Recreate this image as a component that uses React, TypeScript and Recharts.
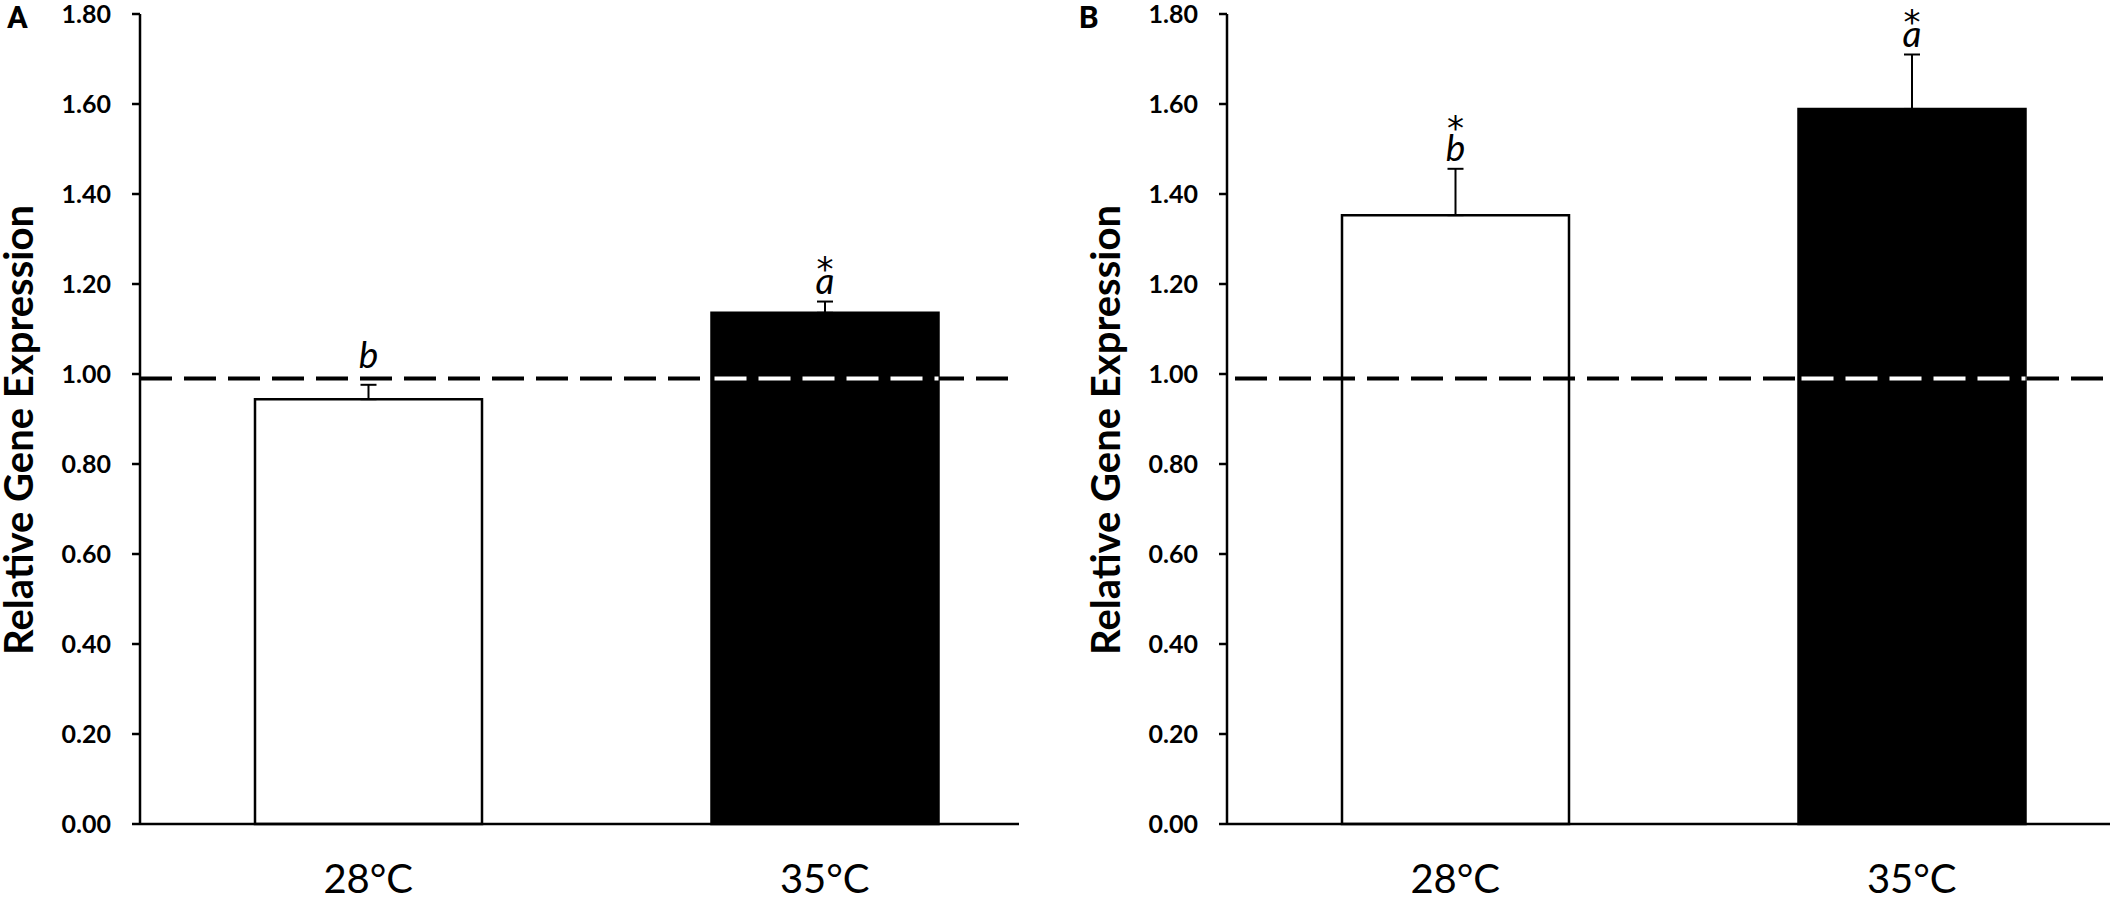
import React from 'react'
import { BarChart, Bar, XAxis, YAxis, ReferenceLine, ErrorBar, LabelList, Cell } from 'recharts'

const categories = ['28°C', '35°C']
const barFills = ['#ffffff', '#000000']

const panelAMeans = [0.944, 1.136]
const panelAErrors = [0.032, 0.025]
const panelALetters = ['b', 'a']
const panelAStars = [false, true]

const panelBMeans = [1.353, 1.589]
const panelBErrors = [0.103, 0.121]
const panelBLetters = ['b', 'a']
const panelBStars = [true, true]

const yTicks = [0, 0.2, 0.4, 0.6, 0.8, 1.0, 1.2, 1.4, 1.6, 1.8]
const controlLevel = 0.99

const FONT = 'Lato, "Open Sans", sans-serif'
const CHART_H = 901
const BAR_SIZE = 227
const DASH = '32 12'
const LETTER_SIZE = 37
const ASCENDERS = 'bdfhklt'

interface PanelProps {
  means: number[]
  errors: number[]
  letters: string[]
  stars: boolean[]
  width: number
  yAxisWidth: number
  dashOffset: number
}

const Panel: React.FC<PanelProps> = ({ means, errors, letters, stars, width, yAxisWidth, dashOffset }) => {
  const data = categories.map((category, i) => ({
    category,
    value: means[i],
    err: [0, errors[i]],
    fill: barFills[i],
    letter: letters[i],
    star: stars[i],
  }))

  // white dashes over the dark bar, significance letter and star above the error bar
  const renderMarks = (props: any) => {
    const { x, y, width: w, height: h, value, index } = props
    const row = data[index]
    if (!row || !value) return null
    const base = y + h
    const ppu = h / value
    const refY = base - controlLevel * ppu
    const errTop = y - row.err[1] * ppu
    const cx = x + w / 2
    const letterY = Math.min(errTop - 8, refY - 11)
    const letterTop = letterY - (ASCENDERS.includes(row.letter) ? 0.73 : 0.51) * LETTER_SIZE
    const starY = letterTop - 6 + 12
    return (
      <g>
        {row.fill === '#000000' && (
          <line x1={x + 3} x2={x + w} y1={refY} y2={refY} stroke="#fff" strokeWidth={4} strokeDasharray={DASH} />
        )}
        <text x={cx} y={letterY} textAnchor="middle" fontSize={LETTER_SIZE} fontStyle="italic" fontFamily={FONT} fill="#000">
          {row.letter}
        </text>
        {row.star && (
          <text x={cx} y={starY} textAnchor="middle" fontSize={34} fontFamily='"DejaVu Sans", sans-serif' fill="#000">
            *
          </text>
        )}
      </g>
    )
  }

  const renderTitle = (props: any) => {
    const vb = props.viewBox
    const tx = vb.x + vb.width - 107
    const ty = vb.y + vb.height / 2 + 11
    return (
      <text
        x={tx}
        y={ty}
        transform={`rotate(-90 ${tx} ${ty})`}
        textAnchor="middle"
        fontSize={40}
        fontWeight={700}
        fontFamily={FONT}
        fill="#000"
      >
        Relative Gene Expression
      </text>
    )
  }

  const renderCategoryTick = (props: any) => {
    const { x, y, payload } = props
    return (
      <text x={x} y={y + 69} textAnchor="middle" fontSize={40} fontFamily={FONT} fill="#000">
        {payload.value}
      </text>
    )
  }

  return (
    <BarChart width={width} height={CHART_H} data={data} margin={{ top: 14, right: 0, bottom: 0, left: 0 }}>
      <XAxis
        dataKey="category"
        height={77}
        tickLine={false}
        tickSize={0}
        tickMargin={0}
        axisLine={{ stroke: '#000', strokeWidth: 2.5 }}
        tick={renderCategoryTick}
      />
      <YAxis
        width={yAxisWidth}
        domain={[0, 1.8]}
        ticks={yTicks}
        interval={0}
        tickFormatter={(v: number) => v.toFixed(2)}
        tickSize={8}
        tickMargin={21}
        axisLine={{ stroke: '#000', strokeWidth: 2.5 }}
        tickLine={{ stroke: '#000', strokeWidth: 2.5 }}
        tick={{ fill: '#000', fontSize: 25, fontWeight: 700, fontFamily: FONT }}
        label={renderTitle}
      />
      <Bar dataKey="value" barSize={BAR_SIZE} stroke="#000" strokeWidth={2.5} isAnimationActive={false}>
        {data.map((d) => (
          <Cell key={d.category} fill={d.fill} />
        ))}
        <ErrorBar dataKey="err" direction="y" width={8} strokeWidth={2} stroke="#000" />
        <LabelList dataKey="value" content={renderMarks} />
      </Bar>
      <ReferenceLine
        y={controlLevel}
        stroke="#000"
        strokeWidth={4}
        strokeDasharray={DASH}
        strokeDashoffset={dashOffset}
      />
    </BarChart>
  )
}

const panelLetterStyle: React.CSSProperties = {
  position: 'absolute',
  top: 2,
  fontFamily: 'Roboto, "Liberation Sans", sans-serif',
  fontWeight: 700,
  fontSize: 31,
  lineHeight: 1,
  color: '#000',
}

export default function App() {
  return (
    <div
      style={{
        position: 'fixed',
        left: 0,
        top: 0,
        width: 2110,
        height: 901,
        overflow: 'hidden',
        background: '#fff',
        fontFamily: FONT,
      }}
    >
      <div style={{ position: 'absolute', left: 0, top: 0 }}>
        <Panel
          means={panelAMeans}
          errors={panelAErrors}
          letters={panelALetters}
          stars={panelAStars}
          width={1053}
          yAxisWidth={140}
          dashOffset={0}
        />
      </div>
      <div style={{ position: 'absolute', left: 1019, top: 0, background: '#fff' }}>
        <Panel
          means={panelBMeans}
          errors={panelBErrors}
          letters={panelBLetters}
          stars={panelBStars}
          width={1121}
          yAxisWidth={208}
          dashOffset={36}
        />
      </div>
      <div style={{ ...panelLetterStyle, left: 7 }}>A</div>
      <div style={{ ...panelLetterStyle, left: 1079 }}>B</div>
    </div>
  )
}
